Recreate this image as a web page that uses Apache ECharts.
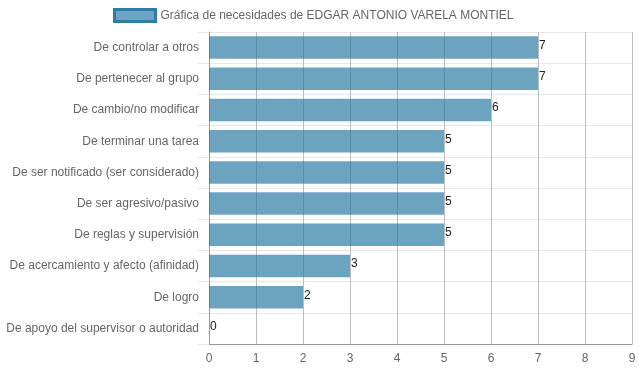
<!DOCTYPE html>
<html><head><meta charset="utf-8">
<script src="https://cdn.jsdelivr.net/npm/echarts@6/dist/echarts.min.js"></script>
<style>html,body{margin:0;padding:0;background:#fff}#c{width:639px;height:372px}</style>
</head><body><div id="c"></div>
<script>
const categories = [
  "De controlar a otros",
  "De pertenecer al grupo",
  "De cambio/no modificar",
  "De terminar una tarea",
  "De ser notificado (ser considerado)",
  "De ser agresivo/pasivo",
  "De reglas y supervisión",
  "De acercamiento y afecto (afinidad)",
  "De logro",
  "De apoyo del supervisor o autoridad"
];
const values = [7, 7, 6, 5, 5, 5, 5, 3, 2, 0];
const seriesName = "Gráfica de necesidades de EDGAR ANTONIO VARELA MONTIEL";
const xTicks = [0, 9, 1];

const chart = echarts.init(document.getElementById('c'), null, {renderer: 'canvas'});
const font = "Liberation Sans, Arial, sans-serif";
chart.setOption({
  animation: false,
  textStyle: {fontFamily: font},
  legend: {
    top: 3, left: 108,
    itemWidth: 41, itemHeight: 12,
    icon: 'rect',
    textStyle: {color: '#666', fontSize: 12, fontFamily: font},
    data: [{name: seriesName, icon: 'rect', itemStyle: {color: 'rgba(108,165,196,1)', borderColor: '#2e7da8', borderWidth: 3}}]
  },
  grid: {left: 209, right: 7, top: 32, bottom: 28, containLabel: false},
  xAxis: {
    type: 'value', min: xTicks[0], max: xTicks[1], interval: xTicks[2],
    axisLine: {show: true, lineStyle: {color: '#999'}},
    axisTick: {show: false},
    axisLabel: {color: '#666', fontSize: 12, fontFamily: font, margin: 9},
    splitLine: {show: true, lineStyle: {color: '#bdbdbd', width: 1}}
  },
  yAxis: {
    type: 'category', data: categories, inverse: true,
    axisLine: {show: true, lineStyle: {color: '#999'}},
    axisTick: {show: true, length: 11, lineStyle: {color: '#e8e8e8'}},
    axisLabel: {color: '#666', fontSize: 12, fontFamily: font, margin: 10},
    splitLine: {show: true, lineStyle: {color: '#e8e8e8', width: 1}}
  },
  series: [{
    name: seriesName, type: 'bar', data: values,
    barWidth: '72%',
    itemStyle: {color: 'rgba(46,125,165,0.7)'},
    label: {show: true, position: 'right', distance: 1, offset: [0, -2],
      color: '#222', fontSize: 12, fontFamily: font}
  }]
});
</script></body></html>
